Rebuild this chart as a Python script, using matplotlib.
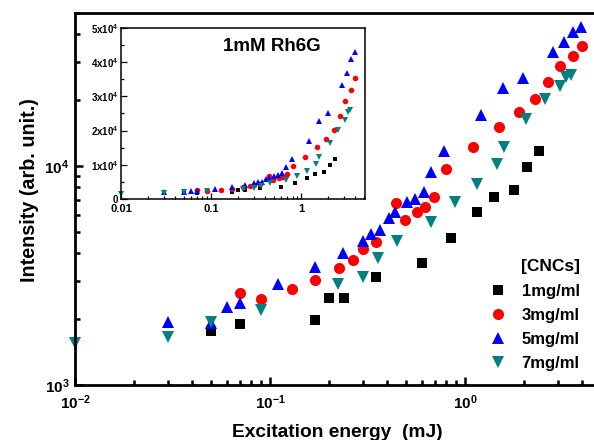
import matplotlib
matplotlib.use("Agg")
import math
import matplotlib.pyplot as plt
from matplotlib.ticker import LogLocator, FixedLocator, NullFormatter, FuncFormatter, MultipleLocator

plt.rcParams['font.family'] = ['Liberation Sans', 'DejaVu Sans']
plt.rcParams['font.weight'] = 'bold'
plt.rcParams['mathtext.fontset'] = 'custom'
plt.rcParams['mathtext.rm'] = 'Liberation Sans:bold'
plt.rcParams['mathtext.bf'] = 'Liberation Sans:bold'
plt.rcParams['mathtext.default'] = 'bf'

# ---- data ----
x_1 = [0.05, 0.07, 0.17, 0.20, 0.24, 0.35, 0.60, 0.85, 1.15, 1.41, 1.78, 2.09, 2.39]
y_1 = [1765, 1900, 1980, 2500, 2500, 3110, 3610, 4690, 6170, 7220, 7770, 9950, 11700]

x_3 = [0.07, 0.09, 0.13, 0.17, 0.227, 0.267, 0.30, 0.35, 0.443, 0.49, 0.57, 0.62,
       0.694, 0.80, 1.10, 1.49, 1.89, 2.29, 2.67, 3.07, 3.58, 3.98]
y_3 = [2630, 2470, 2740, 3017, 3424, 3720, 4178, 4496, 6776, 5667, 6166, 6500,
       7220, 9690, 12200, 15070, 17650, 20200, 24200, 28600, 31800, 35300]

x_5 = [0.03, 0.05, 0.06, 0.07, 0.11, 0.17, 0.236, 0.30, 0.33, 0.366, 0.407, 0.437,
       0.505, 0.555, 0.617, 0.67, 0.78, 1.21, 1.57, 1.98, 2.83, 3.22, 3.58, 3.95]
y_5 = [1940, 1920, 2270, 2370, 2890, 3458, 4004, 4545, 4892, 5100, 5790, 6166,
       6850, 7070, 7610, 9390, 11700, 17100, 22700, 25200, 33200, 36800, 40900, 43100]

x_7 = [0.01, 0.03, 0.05, 0.09, 0.223, 0.30, 0.36, 0.45, 0.67, 0.89, 1.15, 1.46,
       1.585, 2.06, 2.57, 3.07, 3.30, 3.50]
y_7 = [1556, 1656, 1940, 2200, 2893, 3112, 3801, 4545, 5550, 6850, 8280, 10220,
       12200, 16400, 20200, 23200, 25500, 26000]

labels = ['1mg/ml', '3mg/ml', '5mg/ml', '7mg/ml']
colors = ['#000000', '#ff0000', '#0000ff', '#008080']
markers = ['s', 'o', '^', 'v']
sizes = [7, 8, 9, 9]
inset_sizes = [3.5, 4, 4.5, 4.5]
series = [(x_1, y_1), (x_3, y_3), (x_5, y_5), (x_7, y_7)]

fig = plt.figure(figsize=(5.94, 4.40), dpi=100)

# main axes (extends slightly beyond right edge, as in the cropped original)
ax = fig.add_axes([75/594, 55/440, 526.3/594, 372/440])
for (xs, ys), c, m, s, lab in zip(series, colors, markers, sizes, labels):
    ax.plot(xs, ys, linestyle='none', marker=m, color=c, markersize=s,
            markeredgewidth=0, label=lab, clip_on=False)
ax.set_xscale('log')
ax.set_yscale('log')
ax.set_xlim(0.01, 5.0)
ax.set_ylim(1000, 50000)
for sp in ax.spines.values():
    sp.set_linewidth(2.0)
ax.tick_params(which='both', direction='in', width=1.8, labelsize=11, top=False, right=False)
ax.tick_params(which='major', length=6)
ax.tick_params(which='minor', length=3.5)
ax.xaxis.set_major_locator(FixedLocator([0.01, 0.1, 1]))
ax.yaxis.set_major_locator(FixedLocator([1000, 10000]))
ax.xaxis.set_minor_locator(LogLocator(base=10, subs=range(2, 10)))
ax.yaxis.set_minor_locator(LogLocator(base=10, subs=range(2, 10)))
ax.xaxis.set_minor_formatter(NullFormatter())
ax.yaxis.set_minor_formatter(NullFormatter())
ax.xaxis.set_major_formatter(FuncFormatter(lambda v, p: r'$\mathbf{10^{%d}}$' % round(math.log10(v))))
ax.yaxis.set_major_formatter(FuncFormatter(lambda v, p: r'$\mathbf{10^{%d}}$' % round(math.log10(v))))
ax.tick_params(axis='x', pad=6)
ax.tick_params(axis='y', pad=4)

fig.text(337/594, 1 - 432/440, 'Excitation energy  (mJ)', ha='center', va='center',
         fontsize=13.8, fontweight='bold')
fig.text(30/594, 1 - 190/440, 'Intensity (arb. unit.)', ha='center', va='center',
         rotation=90, fontsize=14.2, fontweight='bold')

leg = ax.legend(loc='upper left', bbox_to_anchor=(480/594, 1 - 251/440),
                bbox_transform=fig.transFigure, frameon=False, title='[CNCs]',
                prop={'weight': 'bold', 'size': 12}, handletextpad=0.8,
                labelspacing=0.55, borderpad=0, handlelength=1.2)
leg.get_title().set_fontweight('bold')
leg.get_title().set_fontsize(12.5)
leg._legend_box.align = 'right'

# inset
axi = fig.add_axes([121/594, 1 - 199/440, 244/594, 171/440])
for (xs, ys), c, m, s in zip(series, colors, markers, inset_sizes):
    axi.plot(xs, ys, linestyle='none', marker=m, color=c, markersize=s,
             markeredgewidth=0, clip_on=False)
axi.set_xscale('log')
axi.set_xlim(0.01, 5.1)
axi.set_ylim(0, 50000)
for sp in axi.spines.values():
    sp.set_linewidth(1.1)
axi.tick_params(which='both', direction='in', width=0.9, top=False, right=False)
axi.tick_params(which='major', length=4, labelsize=8)
axi.tick_params(which='minor', length=2)
axi.xaxis.set_major_locator(FixedLocator([0.01, 0.1, 1]))
axi.xaxis.set_major_formatter(FuncFormatter(lambda v, p: {0.01: '0.01', 0.1: '0.1', 1: '1'}.get(round(v, 2), '')))
axi.xaxis.set_minor_locator(LogLocator(base=10, subs=range(2, 10)))
axi.xaxis.set_minor_formatter(NullFormatter())
axi.yaxis.set_major_locator(MultipleLocator(10000))
axi.yaxis.set_minor_locator(MultipleLocator(5000))
axi.yaxis.set_major_formatter(FuncFormatter(lambda v, p: '0' if v == 0 else r'$\mathbf{%dx10^{4}}$' % round(v / 10000)))
axi.tick_params(axis='y', labelsize=7, pad=2)
axi.tick_params(axis='x', labelsize=8, pad=3.5)
axi.text((272 - 121) / 244, (199 - 46) / 171, '1mM Rh6G', transform=axi.transAxes,
         ha='center', va='center', fontsize=13.5, fontweight='bold')

fig.savefig('out.png', dpi=100)
